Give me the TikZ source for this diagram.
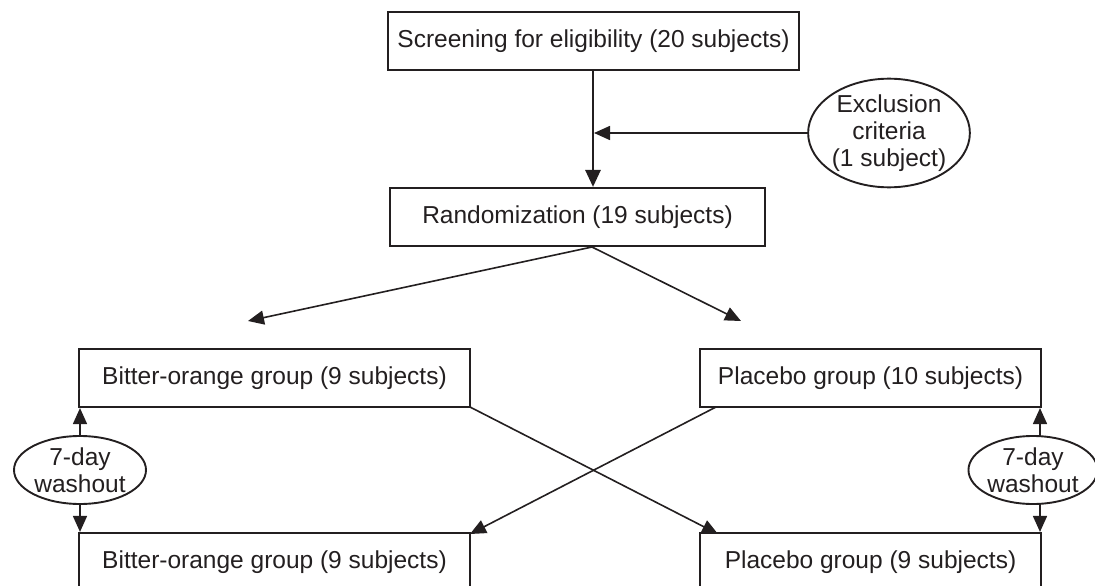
\documentclass[tikz,border=0pt]{standalone}
\usepackage{fontspec}
\setmainfont{Liberation Sans}
\usetikzlibrary{arrows.meta,shapes.geometric}
\definecolor{ink}{HTML}{231F20}
\begin{document}
\begin{tikzpicture}[x=1pt,y=-1pt,
  every node/.style={font=\fontsize{24.5}{27}\selectfont, text=ink},
  boxnode/.style={draw=ink, line width=2.1pt, rectangle, minimum height=58pt, inner sep=0pt},
  ovalnode/.style={draw=ink, line width=1.9pt, ellipse, inner sep=0pt, align=center},
  conn/.style={draw=ink, line width=1.6pt, -{Triangle[length=16pt,width=14pt]}},
  thick conn/.style={draw=ink, line width=2.8pt, -{Triangle[length=17pt,width=15pt]}}]
\useasboundingbox (0,0) rectangle (1095,586);
\node[boxnode, minimum width=411pt] (screen) at (593.5,41) {Screening for eligibility (20 subjects)};
\node[boxnode, minimum width=375pt] (rand) at (577.5,217) {Randomization (19 subjects)};
\node[ovalnode, minimum width=118pt, minimum height=92pt] (excl) at (889,133) {Exclusion\\criteria\\(1 subject)};
\node[boxnode, minimum width=391pt] (bo1) at (274.5,378) {Bitter-orange group (9 subjects)};
\node[boxnode, minimum width=341pt] (pl1) at (870.5,378) {Placebo group (10 subjects)};
\node[boxnode, minimum width=391pt] (bo2) at (274.5,562) {Bitter-orange group (9 subjects)};
\node[boxnode, minimum width=341pt] (pl2) at (870.5,562) {Placebo group (9 subjects)};
\node[ovalnode, minimum width=132pt, minimum height=68pt] (w1) at (80,470) {7-day\\washout};
\node[ovalnode, minimum width=126pt, minimum height=68pt] (w2) at (1033,470) {7-day\\washout};
% main flow
\coordinate (sb) at (screen.south -| 593,0);
\coordinate (rt) at (rand.north -| 593,0);
\draw[thick conn] (sb) -- (rt);
\coordinate (mid) at (594,133);
\draw[conn] (excl.west) -- (mid);
% fork
\coordinate (apex) at (592,247);
\coordinate (fl) at (248,321);
\coordinate (fr) at (741,321);
\draw[conn] (apex) -- (fl);
\draw[conn] (apex) -- (fr);
% crossing
\coordinate (c1) at (470,407);
\coordinate (c2) at (718,534);
\coordinate (c3) at (716,407);
\coordinate (c4) at (470,534);
\draw[conn] (c1) -- (c2);
\draw[conn] (c3) -- (c4);
% washout arrows
\draw[conn] (w1.north) -- (w1.north |- bo1.south);
\draw[conn] (w1.south) -- (w1.south |- bo2.north);
\coordinate (w2t) at (1040,436);
\coordinate (w2b) at (1040,504);
\draw[conn] (w2t) -- (w2t |- pl1.south);
\draw[conn] (w2b) -- (w2b |- pl2.north);
\end{tikzpicture}
\end{document}
